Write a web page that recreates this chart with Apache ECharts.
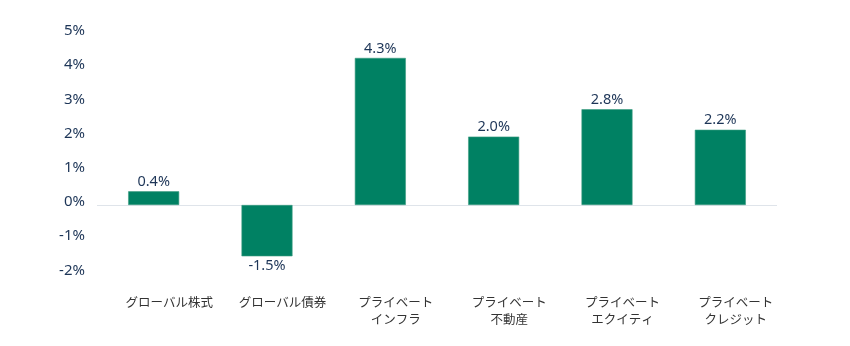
<!DOCTYPE html>
<html><head><meta charset="utf-8">
<script src="https://cdn.jsdelivr.net/npm/echarts@6/dist/echarts.min.js"></script>
<style>html,body{margin:0;padding:0;background:#fff}#c{width:850px;height:346px}</style>
</head><body><div id="c"></div>
<script>
const categories = ['グローバル株式','グローバル債券','プライベート\nインフラ','プライベート\n不動産','プライベート\nエクイティ','プライベート\nクレジット'];
const values = [0.4, -1.5, 4.3, 2.0, 2.8, 2.2];
const yTicks = [-2, -1, 0, 1, 2, 3, 4, 5];

const chart = echarts.init(document.getElementById('c'));
chart.setOption({
  animation: false,
  grid: {left: 97, right: 73, top: 34, bottom: 72.6},
  xAxis: {
    type: 'category', data: categories,
    axisLine: {show: false, onZero: false}, axisTick: {show: false},
    axisLabel: {interval: 0, color: '#333', fontSize: 12.5, lineHeight: 17, margin: 20, padding: [0,0,0,31], fontFamily: 'Noto Sans CJK JP'}
  },
  yAxis: {
    type: 'value', min: yTicks[0], max: yTicks[yTicks.length-1], interval: 1,
    axisLine: {show: false}, axisTick: {show: false},
    splitLine: {show: true, lineStyle: {color: yTicks.map(v => v === 0 ? '#dfe4ea' : 'rgba(0,0,0,0)'), width: 1}},
    axisLabel: {formatter: v => '{a|' + v + '%}', color: '#1d3557', fontSize: 15, margin: 12,
      rich: {a: {color: '#1d3557', fontSize: 15, fontFamily: 'Noto Sans', padding: [0,0,6,0]}}}
  },
  series: [{
    type: 'bar', barWidth: 51,
    data: values.map(v => v < 0 ? {value: v, label: {position: 'bottom'}} : v),
    itemStyle: {color: '#008163', borderColor: '#3d9c82', borderWidth: 0.6},
    label: {show: true, position: 'top', formatter: p => p.value.toFixed(1) + '%', color: '#1d3557', fontSize: 14.5, distance: 2, fontFamily: 'Noto Sans'}
  }]
});
</script></body></html>
